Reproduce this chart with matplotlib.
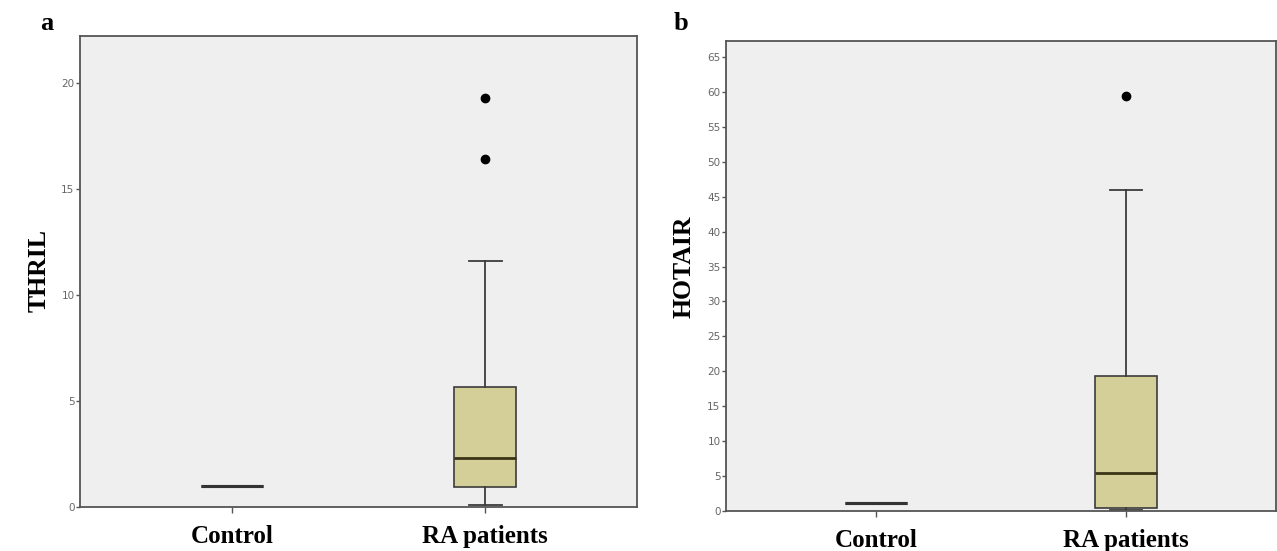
import matplotlib
matplotlib.use("Agg")
import matplotlib.pyplot as plt

categories = ["Control", "RA patients"]

# Panel a: THRIL
thril_q1 = [1.0, 0.94]
thril_med = [1.0, 2.3]
thril_q3 = [1.0, 5.65]
thril_wlo = [1.0, 0.1]
thril_whi = [1.0, 11.6]
thril_out = [[], [16.4, 19.3]]

# Panel b: HOTAIR
hotair_q1 = [1.1, 0.5]
hotair_med = [1.1, 5.5]
hotair_q3 = [1.1, 19.3]
hotair_wlo = [1.1, 0.2]
hotair_whi = [1.1, 46.0]
hotair_out = [[], [59.4]]

thril_ticks = [0, 5, 10, 15, 20]
hotair_ticks = list(range(0, 70, 5))

W, H = 1277, 551
fig = plt.figure(figsize=(W / 100, H / 100), dpi=100)

BG = "#efefef"
BOX = "#d4cf98"
EDGE = "#3c3c3c"
MED = "#3b3517"
serif = ["Liberation Serif", "DejaVu Serif"]


def make_stats(q1, med, q3, wlo, whi, out):
    stats = []
    for i in range(len(q1)):
        stats.append(dict(q1=q1[i], med=med[i], q3=q3[i], whislo=wlo[i],
                          whishi=whi[i], fliers=out[i], label=categories[i]))
    return stats


def draw(ax, stats, ticks, ylim, ylabel, label_xy, letter, letter_xy):
    ax.set_facecolor(BG)
    bp = ax.bxp(stats, positions=[1, 2], widths=0.245, patch_artist=True,
                showfliers=True,
                boxprops=dict(facecolor=BOX, edgecolor=EDGE, linewidth=1.2),
                medianprops=dict(color=MED, linewidth=2.0),
                whiskerprops=dict(color=EDGE, linewidth=1.3),
                capprops=dict(color=EDGE, linewidth=1.3),
                capwidths=0.13,
                flierprops=dict(marker="o", markerfacecolor="black",
                                markeredgecolor="black", markersize=6))
    bp["boxes"][0].set_linewidth(2.2)
    bp["medians"][0].set_linewidth(2.2)
    bp["medians"][0].set_color("#333333")
    ax.set_xlim(0.4, 2.6)
    ax.set_ylim(*ylim)
    ax.set_yticks(ticks)
    ax.set_yticklabels([str(t) for t in ticks], fontsize=7.5, color="#666666",
                       family="DejaVu Sans")
    ax.set_xticks([1, 2])
    ax.set_xticklabels(categories, fontsize=18, fontweight="bold", family=serif)
    ax.tick_params(axis="y", length=3, width=1, color="#555555", pad=1)
    ax.tick_params(axis="x", length=4, width=1, color="#555555", pad=9)
    for s in ax.spines.values():
        s.set_color("#555555")
        s.set_linewidth(1.3)
    ax.set_ylabel(ylabel, fontsize=18.5, fontweight="bold", family=serif)
    ax.yaxis.label.set_va("center")
    ax.yaxis.label.set_ha("center")
    ax.yaxis.set_label_coords(*label_xy)
    fig.text(letter_xy[0], letter_xy[1], letter, fontsize=19, fontweight="bold",
             family=serif, ha="center", va="baseline")


ax1 = fig.add_axes([80 / W, 1 - 507 / H, (637 - 80) / W, (507 - 36) / H])
draw(ax1, make_stats(thril_q1, thril_med, thril_q3, thril_wlo, thril_whi, thril_out),
     thril_ticks, (0, 22.2), "THRIL", (-0.074, 0.503), "a", (47 / W, 1 - 30 / H))

ax2 = fig.add_axes([726 / W, 1 - 511 / H, (1276 - 726) / W, (511 - 41) / H])
draw(ax2, make_stats(hotair_q1, hotair_med, hotair_q3, hotair_wlo, hotair_whi, hotair_out),
     hotair_ticks, (0, 67.3), "HOTAIR", (-0.076, 0.519), "b", (681 / W, 1 - 30 / H))

fig.savefig("out.png", dpi=100)
